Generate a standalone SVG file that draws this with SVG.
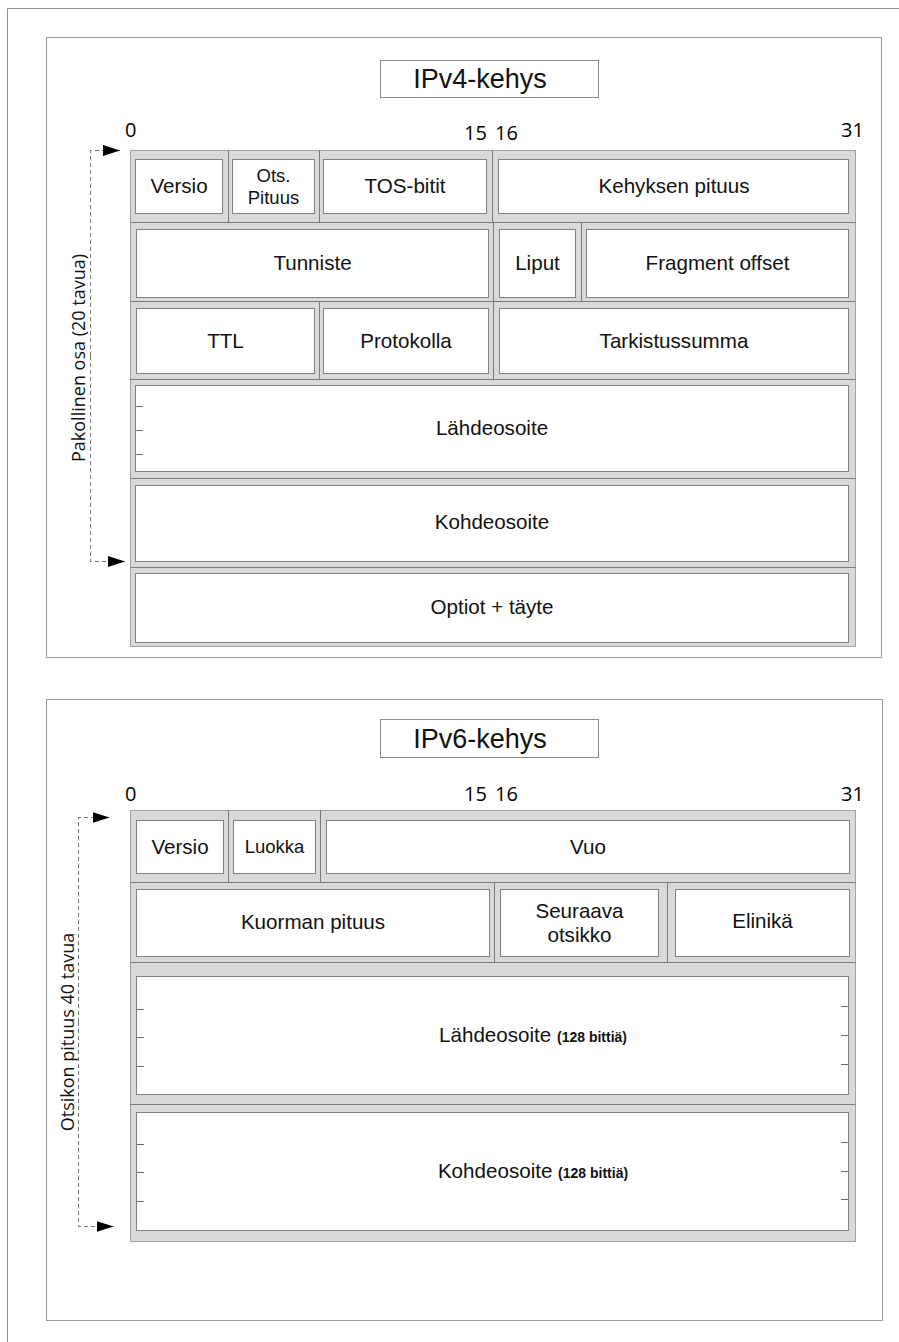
<svg xmlns="http://www.w3.org/2000/svg" width="899" height="1342" viewBox="0 0 899 1342">
<style>
.frame{fill:none;stroke:#8c8c8c;stroke-width:1}
.panel{fill:#fff;stroke:#9a9a9a;stroke-width:1}
.title{fill:#fff;stroke:#8c8c8c;stroke-width:1}
.tbl{fill:#d9d9d9;stroke:#a3a3a3;stroke-width:1}
.sep{stroke:#7a7a7a;stroke-width:1}
.box{fill:#fff;stroke:#808080;stroke-width:1}
.tick{stroke:#6a6a6a;stroke-width:1}
.lbl{font-family:"Liberation Sans",Arial,sans-serif;font-size:20.6px;fill:#111;text-anchor:middle}
.sm{font-size:18.5px}
.b{font-weight:bold;font-size:14px}
.hd{font-family:"Liberation Sans",Arial,sans-serif;font-size:27px;fill:#111;text-anchor:middle}
.bits{font-family:"Open Sans",sans-serif;font-size:20px;fill:#000}
.side{font-family:"Open Sans",sans-serif;font-size:18px;fill:#111;text-anchor:middle}
.conn{fill:none;stroke:#777;stroke-width:1;stroke-dasharray:4 3}
</style>
<defs>
<marker id="arr" markerUnits="userSpaceOnUse" markerWidth="18" markerHeight="12" refX="17" refY="6" orient="auto">
<path d="M0,0.5 L17,6 L0,11.5 z" fill="#000"/>
</marker>
</defs>

<rect width="899" height="1342" fill="#fff"/>
<!-- outer page frame -->
<path class="frame" d="M7.5,1342 V8.5 H899"/>

<!-- ===== IPv4 ===== -->
<rect class="panel" x="46.5" y="37.5" width="835" height="620"/>
<g id="ipv4-title">
<rect class="title" x="380.5" y="60.5" width="218" height="37"/>
<text class="hd" x="480" y="88">IPv4-kehys</text>
</g>
<g id="ipv4-bits">
<text class="bits" x="125" y="137">0</text>
<text class="bits" x="464" y="140">15</text>
<text class="bits" x="495" y="140">16</text>
<text class="bits" x="841" y="137">31</text>
</g>
<g id="ipv4-table">
<rect class="tbl" x="130.5" y="150.5" width="725" height="496"/>
<g class="sep">
<line x1="130.5" y1="222.5" x2="855.5" y2="222.5"/>
<line x1="130.5" y1="301.5" x2="855.5" y2="301.5"/>
<line x1="130.5" y1="379.5" x2="855.5" y2="379.5"/>
<line x1="130.5" y1="478.5" x2="855.5" y2="478.5"/>
<line x1="130.5" y1="567.5" x2="855.5" y2="567.5"/>
<line x1="228.5" y1="150.5" x2="228.5" y2="222.5"/>
<line x1="319.5" y1="150.5" x2="319.5" y2="222.5"/>
<line x1="492.5" y1="150.5" x2="492.5" y2="222.5"/>
<line x1="493.5" y1="222.5" x2="493.5" y2="301.5"/>
<line x1="581.5" y1="222.5" x2="581.5" y2="301.5"/>
<line x1="319.5" y1="301.5" x2="319.5" y2="379.5"/>
<line x1="493.5" y1="301.5" x2="493.5" y2="379.5"/>
</g>
</g>
<g id="v4-versio"><rect class="box" x="135.5" y="159.5" width="87" height="54"/><text class="lbl" x="179" y="193">Versio</text></g>
<g id="v4-ots-pituus"><rect class="box" x="232.5" y="159.5" width="82" height="54"/><text class="lbl sm" x="273.5" y="182">Ots.</text><text class="lbl sm" x="273.5" y="204">Pituus</text></g>
<g id="v4-tos"><rect class="box" x="323.5" y="159.5" width="163" height="54"/><text class="lbl" x="405" y="193">TOS-bitit</text></g>
<g id="v4-kehyksen-pituus"><rect class="box" x="498.5" y="159.5" width="350" height="54"/><text class="lbl" x="674" y="193">Kehyksen pituus</text></g>
<g id="v4-tunniste"><rect class="box" x="136.5" y="229.5" width="352" height="68"/><text class="lbl" x="312.5" y="270">Tunniste</text></g>
<g id="v4-liput"><rect class="box" x="499.5" y="229.5" width="76" height="68"/><text class="lbl" x="537.5" y="270">Liput</text></g>
<g id="v4-fragment"><rect class="box" x="586.5" y="229.5" width="262" height="68"/><text class="lbl" x="717.5" y="270">Fragment offset</text></g>
<g id="v4-ttl"><rect class="box" x="136.5" y="308.5" width="178" height="65"/><text class="lbl" x="225.5" y="348">TTL</text></g>
<g id="v4-protokolla"><rect class="box" x="323.5" y="308.5" width="165" height="65"/><text class="lbl" x="406" y="348">Protokolla</text></g>
<g id="v4-tarkistussumma"><rect class="box" x="499.5" y="308.5" width="349" height="65"/><text class="lbl" x="674" y="348">Tarkistussumma</text></g>
<g id="v4-lahdeosoite"><rect class="box" x="135.5" y="385.5" width="713" height="86"/>
<g class="tick"><line x1="136" y1="406.5" x2="143" y2="406.5"/><line x1="136" y1="430.5" x2="143" y2="430.5"/><line x1="136" y1="454.5" x2="143" y2="454.5"/></g>
<text class="lbl" x="492" y="435">Lähdeosoite</text></g>
<g id="v4-kohdeosoite"><rect class="box" x="135.5" y="485.5" width="713" height="76"/><text class="lbl" x="492" y="529">Kohdeosoite</text></g>
<g id="v4-optiot"><rect class="box" x="135.5" y="573.5" width="713" height="69"/><text class="lbl" x="492" y="614">Optiot + täyte</text></g>
<g id="v4-side-label"><text class="side" transform="translate(85,358) rotate(-90)">Pakollinen osa (20 tavua)</text></g>

<!-- ===== IPv6 ===== -->
<rect class="panel" x="46.5" y="699.5" width="836" height="621"/>
<g id="ipv6-title">
<rect class="title" x="380.5" y="719.5" width="218" height="38"/>
<text class="hd" x="480" y="748">IPv6-kehys</text>
</g>
<g id="ipv6-bits">
<text class="bits" x="125" y="801">0</text>
<text class="bits" x="464" y="801">15</text>
<text class="bits" x="495" y="801">16</text>
<text class="bits" x="841" y="801">31</text>
</g>
<g id="ipv6-table">
<rect class="tbl" x="130.5" y="810.5" width="725" height="431"/>
<g class="sep">
<line x1="130.5" y1="882.5" x2="855.5" y2="882.5"/>
<line x1="130.5" y1="962.5" x2="855.5" y2="962.5"/>
<line x1="130.5" y1="1104.5" x2="855.5" y2="1104.5"/>
<line x1="228.5" y1="810.5" x2="228.5" y2="882.5"/>
<line x1="320.5" y1="810.5" x2="320.5" y2="882.5"/>
<line x1="494.5" y1="882.5" x2="494.5" y2="962.5"/>
<line x1="667.5" y1="882.5" x2="667.5" y2="962.5"/>
</g>
</g>
<g id="v6-versio"><rect class="box" x="136.5" y="820.5" width="87" height="53"/><text class="lbl" x="180" y="854">Versio</text></g>
<g id="v6-luokka"><rect class="box" x="233.5" y="820.5" width="82" height="53"/><text class="lbl sm" x="274.5" y="853">Luokka</text></g>
<g id="v6-vuo"><rect class="box" x="326.5" y="820.5" width="523" height="53"/><text class="lbl" x="588" y="854">Vuo</text></g>
<g id="v6-kuorman-pituus"><rect class="box" x="136.5" y="889.5" width="353" height="67"/><text class="lbl" x="313" y="929">Kuorman pituus</text></g>
<g id="v6-seuraava"><rect class="box" x="500.5" y="889.5" width="158" height="67"/><text class="lbl" x="579.5" y="918">Seuraava</text><text class="lbl" x="579.5" y="942">otsikko</text></g>
<g id="v6-elinika"><rect class="box" x="675.5" y="889.5" width="174" height="67"/><text class="lbl" x="762.5" y="928">Elinikä</text></g>
<g id="v6-lahdeosoite"><rect class="box" x="136.5" y="976.5" width="712" height="118"/>
<g class="tick">
<line x1="137" y1="1009.5" x2="144" y2="1009.5"/><line x1="137" y1="1037.5" x2="144" y2="1037.5"/><line x1="137" y1="1066.5" x2="144" y2="1066.5"/>
<line x1="841" y1="1006.5" x2="848" y2="1006.5"/><line x1="841" y1="1035.5" x2="848" y2="1035.5"/><line x1="841" y1="1064.5" x2="848" y2="1064.5"/>
</g>
<text class="lbl" x="533" y="1042">Lähdeosoite <tspan class="b">(128 bittiä)</tspan></text></g>
<g id="v6-kohdeosoite"><rect class="box" x="136.5" y="1112.5" width="712" height="118"/>
<g class="tick">
<line x1="137" y1="1144.5" x2="144" y2="1144.5"/><line x1="137" y1="1172.5" x2="144" y2="1172.5"/><line x1="137" y1="1201.5" x2="144" y2="1201.5"/>
<line x1="841" y1="1142.5" x2="848" y2="1142.5"/><line x1="841" y1="1171.5" x2="848" y2="1171.5"/><line x1="841" y1="1199.5" x2="848" y2="1199.5"/>
</g>
<text class="lbl" x="533" y="1178">Kohdeosoite <tspan class="b">(128 bittiä)</tspan></text></g>
<g id="v6-side-label"><text class="side" transform="translate(74,1032) rotate(-90)">Otsikon pituus 40 tavua</text></g>

<!-- header-length brackets -->
<g id="connectors">
<path class="conn" d="M90.5,356 V150.5 H120" marker-end="url(#arr)"/>
<path class="conn" d="M90.5,356 V561.5 H125" marker-end="url(#arr)"/>
<path class="conn" d="M78.5,1022 V817.5 H109.5" marker-end="url(#arr)"/>
<path class="conn" d="M78.5,1022 V1226.5 H113.5" marker-end="url(#arr)"/>
</g>
</svg>
